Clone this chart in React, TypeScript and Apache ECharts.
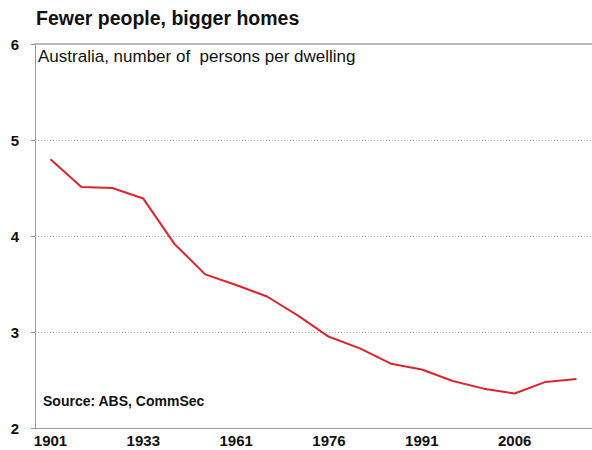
import React, { useEffect, useRef } from "react";
import * as echarts from "echarts";

const censusYears = ["1901","1911","1921","1933","1947","1954","1961","1966","1971","1976","1981","1986","1991","1996","2001","2006","2011","2016"];
const personsPerDwelling = [4.80,4.51,4.50,4.39,3.92,3.60,3.49,3.37,3.17,2.95,2.83,2.67,2.61,2.49,2.41,2.36,2.48,2.51];
const yTicks = [2, 3, 4, 5, 6];

const FONT = "'Liberation Sans', Arial, sans-serif";

export default function App() {
  const ref = useRef<HTMLDivElement>(null);
  useEffect(() => {
    const chart = echarts.init(ref.current!, null, { renderer: "svg" });
    chart.setOption({
      animation: false,
      backgroundColor: "#ffffff",
      textStyle: { fontFamily: FONT },
      title: [
        {
          text: "Fewer people, bigger homes",
          left: 31,
          top: 3,
          textStyle: { fontFamily: FONT, fontSize: 19.5, fontWeight: "bold", color: "#111" },
        },
      ],
      graphic: [
        {
          type: "text",
          left: 38,
          top: 48,
          style: { text: "Australia, number of  persons per dwelling", font: `17px ${FONT}`, fill: "#111" },
        },
        {
          type: "text",
          left: 43,
          top: 394,
          style: { text: "Source: ABS, CommSec", font: `bold 14px ${FONT}`, fill: "#111" },
        },
      ],
      grid: { left: 35, right: 0, top: 44, bottom: 22, containLabel: false },
      xAxis: [
        {
          type: "category",
          data: censusYears,
          boundaryGap: true,
          axisLine: { lineStyle: { color: "#999", width: 1 } },
          axisTick: { inside: true, alignWithLabel: true, interval: 0, length: 5, lineStyle: { color: "#999" } },
          axisLabel: { interval: 2, fontFamily: FONT, fontSize: 15, fontWeight: "bold", color: "#111", margin: 5 },
        },
        {
          type: "category",
          data: censusYears,
          position: "top",
          axisLine: { show: true, lineStyle: { color: "#bbb", width: 2 } },
          axisTick: { show: false },
          axisLabel: { show: false },
        },
      ],
      yAxis: {
        type: "value",
        min: yTicks[0],
        max: yTicks[yTicks.length - 1],
        interval: 1,
        axisLine: { show: true, lineStyle: { color: "#999" } },
        axisTick: { show: true, length: 4, lineStyle: { color: "#999" } },
        axisLabel: { fontFamily: FONT, fontSize: 15, fontWeight: "bold", color: "#111", margin: 16 },
        splitLine: { show: true, lineStyle: { color: "#aaa", type: [1, 2], width: 1 } },
      },
      series: [
        {
          type: "line",
          data: personsPerDwelling,
          symbol: "none",
          lineStyle: { color: "#d9262e", width: 2 },
        },
      ],
    });
    return () => chart.dispose();
  }, []);
  return <div ref={ref} style={{ position: "absolute", left: 0, top: 0, width: 592, height: 450 }} />;
}
